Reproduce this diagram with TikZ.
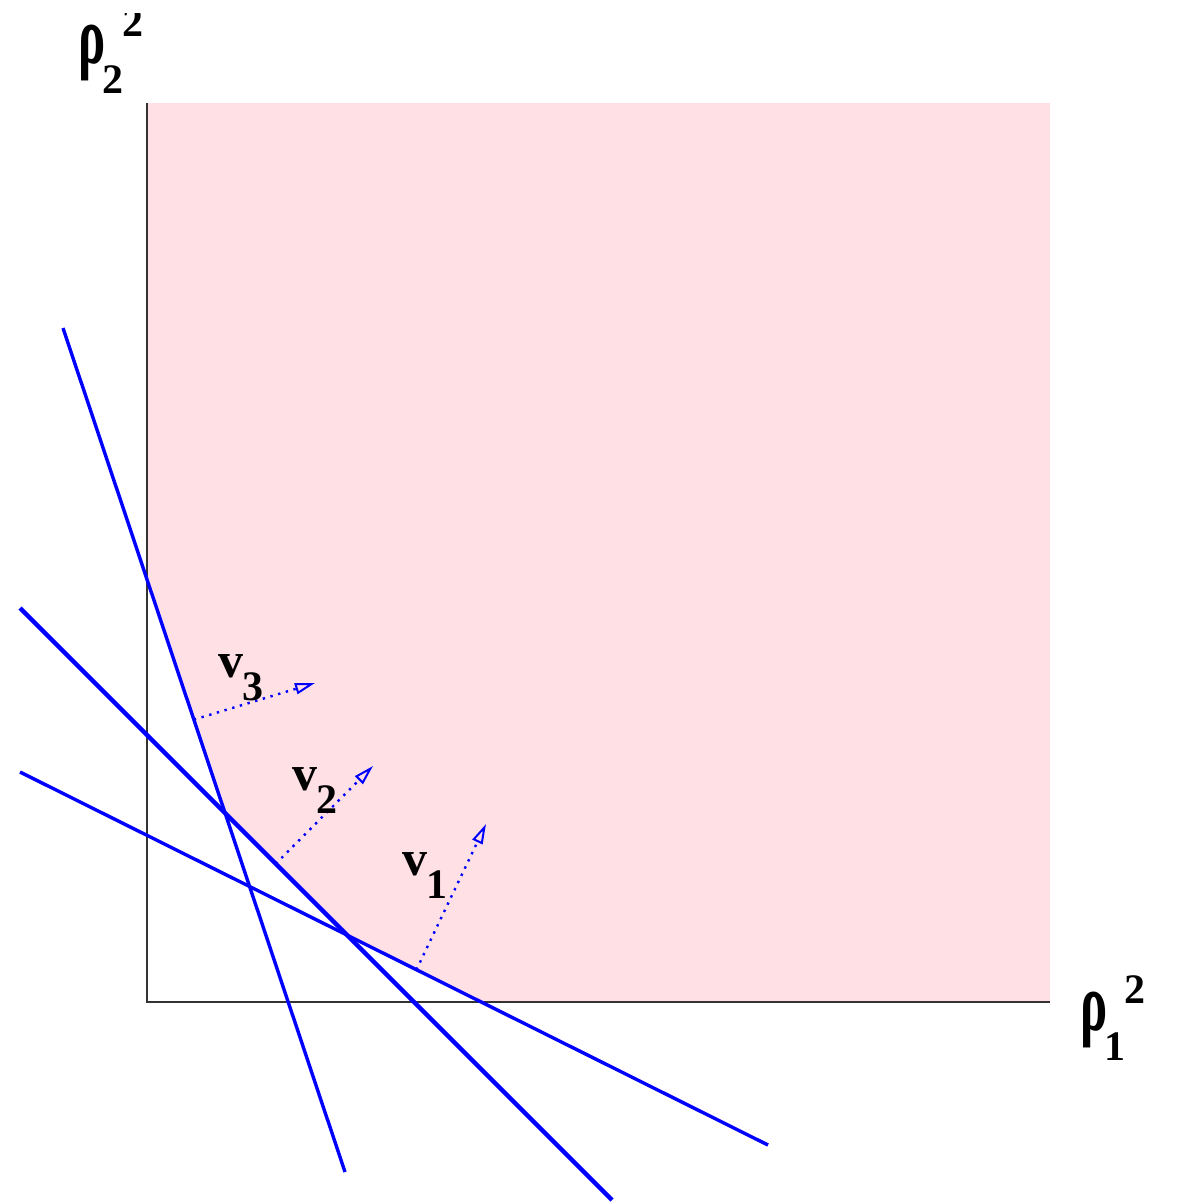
\documentclass[tikz,border=0pt]{standalone}
\usepackage{fontspec}
\setmainfont{Liberation Serif}
\usetikzlibrary{arrows.meta,calc,intersections}
\definecolor{feaspink}{RGB}{255,224,229}
\definecolor{lineblue}{RGB}{0,0,255}
\newcommand\dgt[1]{{\fontsize{42}{42}\selectfont\bfseries #1}}
\newcommand\vlab[1]{{\fontsize{50}{50}\selectfont\bfseries v}\kern-1pt\raisebox{-23pt}{\dgt{#1}}}
\newcommand\rholab[2]{\scalebox{0.62}[1]{\fontsize{82}{82}\selectfont\bfseries ρ}\kern-3pt\rlap{\raisebox{-30pt}{\dgt{#1}}}\kern20pt\raisebox{27pt}{\dgt{#2}}}
\begin{document}
\begin{tikzpicture}[x=1pt,y=-1pt,
  axis/.style={draw=black!80,line width=1.8pt},
  cons/.style={draw=lineblue,line width=3.4pt},
  consthick/.style={draw=lineblue,line width=4.4pt},
  normalvec/.style={draw=lineblue,line width=2.4pt,dash pattern=on 2.4pt off 5.6pt,
    -{Triangle[open,length=20pt,width=11pt,line width=2pt]}},
  lab/.style={inner sep=0pt,anchor=base west}]
\useasboundingbox (0,0) rectangle (1181,1202);
% constraint line end points
\coordinate (a1) at (63,328);   \coordinate (a2) at (345,1172);
\coordinate (b1) at (20,608);   \coordinate (b2) at (612,1200);
\coordinate (c1) at (20,772);   \coordinate (c2) at (768,1145);
\coordinate (o) at (147,1002);
\coordinate (ytop) at (147,103);
\coordinate (xend) at (1050,1002);
\coordinate (tr) at (1050,103);
% intersections
\coordinate (ab) at (intersection of a1--a2 and b1--b2);
\coordinate (bc) at (intersection of b1--b2 and c1--c2);
\coordinate (ay) at (intersection of a1--a2 and o--ytop);
\coordinate (cx) at (intersection of c1--c2 and o--xend);
% feasible region
\fill[feaspink] (ytop) -- (tr) -- (xend) -- (cx) -- (bc) -- (ab) -- (ay) -- cycle;
% axes
\draw[axis] (ytop) -- (o) -- (xend);
% constraints
\draw[cons] (a1) -- (a2);
\draw[consthick] (b1) -- (b2);
\draw[cons] (c1) -- (c2);
% normal vectors
\coordinate (v3s) at ($(a1)!0.464!(a2)$);
\coordinate (v3e) at (315,683);
\coordinate (v2s) at ($(b1)!0.432!(b2)$);
\coordinate (v2e) at (373,766);
\coordinate (v1s) at ($(c1)!0.53!(c2)$);
\coordinate (v1e) at (486,824);
\draw[normalvec] (v3s) -- (v3e);
\draw[normalvec] (v2s) -- (v2e);
\draw[normalvec] (v1s) -- (v1e);
% labels
\node[lab] (lv3) at (218,677) {\vlab{3}};
\node[lab] (lv2) at (292,790) {\vlab{2}};
\node[lab] (lv1) at (402,875) {\vlab{1}};
\node[lab] (lx) at (1080,1030) {\rholab{1}{2}};
\begin{scope}
\clip (0,13) rectangle (300,200);
\node[lab] (ly) at (78,63) {\rholab{2}{2}};
\end{scope}
\end{tikzpicture}
\end{document}
